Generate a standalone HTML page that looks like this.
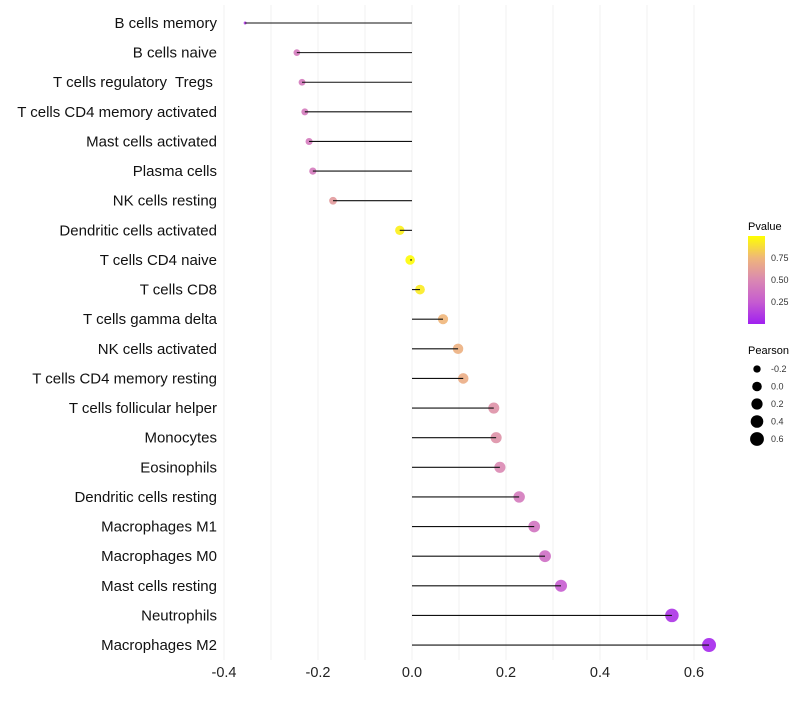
<!DOCTYPE html>
<html><head><meta charset="utf-8"><style>
body{margin:0;background:#fff;font-family:"Liberation Sans",sans-serif}
svg text{font-family:"Liberation Sans",sans-serif;white-space:pre}
</style></head><body>
<svg id="c" width="800" height="700" xmlns="http://www.w3.org/2000/svg">
<defs><linearGradient id="pg" x1="0" y1="1" x2="0" y2="0">
<stop offset="0" stop-color="#a020f0"/><stop offset="0.25" stop-color="#c65cd0"/><stop offset="0.5" stop-color="#da88b2"/><stop offset="0.75" stop-color="#efb67a"/><stop offset="1" stop-color="#ffff00"/></linearGradient></defs>
<g id="grid"></g><g id="marks"></g><g id="labels"></g>
<g>
<text x="748" y="230" font-size="11">Pvalue</text>
<rect x="748" y="236" width="17" height="88" fill="url(#pg)"/>
<text x="771" y="261" font-size="9" fill="#333">0.75</text>
<text x="771" y="283" font-size="9" fill="#333">0.50</text>
<text x="771" y="305" font-size="9" fill="#333">0.25</text>
<text x="748" y="354" font-size="11">Pearson</text>
<g id="sizeleg"></g>
</g>
</svg>
<script>
const cats=["B cells memory","B cells naive","T cells regulatory  Tregs ","T cells CD4 memory activated","Mast cells activated","Plasma cells","NK cells resting","Dendritic cells activated","T cells CD4 naive","T cells CD8","T cells gamma delta","NK cells activated","T cells CD4 memory resting","T cells follicular helper","Monocytes","Eosinophils","Dendritic cells resting","Macrophages M1","Macrophages M0","Mast cells resting","Neutrophils","Macrophages M2"];
const pearson=[-0.355,-0.245,-0.234,-0.228,-0.219,-0.211,-0.168,-0.026,-0.004,0.017,0.066,0.098,0.109,0.174,0.179,0.187,0.228,0.26,0.283,0.317,0.553,0.632];
const pvalue=[0.1,0.42,0.42,0.42,0.42,0.42,0.6,0.95,0.99,0.93,0.75,0.72,0.7,0.55,0.55,0.5,0.42,0.38,0.35,0.25,0.08,0.03];
const xticks=[-0.4,-0.2,0,0.2,0.4,0.6];
const sizeLegend=[-0.2,0,0.2,0.4,0.6];
const NS="http://www.w3.org/2000/svg";
const x=v=>412+v*470;
const y=i=>23+i*29.62;
const pmin=Math.min(...pearson),pmax=Math.max(...pearson);
const rad=v=>1.5+5.5*Math.sqrt(Math.max(0,(v-pmin)/(pmax-pmin)));
const stops=[[0,[160,32,240]],[0.25,[198,92,208]],[0.5,[218,136,178]],[0.75,[239,182,122]],[1,[255,255,0]]];
function col(p){for(let k=1;k<stops.length;k++){if(p<=stops[k][0]){const a=stops[k-1],b=stops[k],t=(p-a[0])/(b[0]-a[0]);return "rgb("+a[1].map((c,j)=>Math.round(c+(b[1][j]-c)*t)).join(",")+")";}}return "rgb(255,255,0)";}
function mk(t,at,parent){const e=document.createElementNS(NS,t);for(const k in at)e.setAttribute(k,at[k]);parent.appendChild(e);return e;}
const grid=document.getElementById('grid'),marks=document.getElementById('marks'),labels=document.getElementById('labels');
for(let v=-0.4;v<=0.65;v+=0.1){const g=mk('line',{x1:x(v),x2:x(v),y1:5,y2:660,stroke:'#f0f0f0','stroke-width':1},grid);

}
xticks.forEach(v=>{const t=mk('text',{x:x(v),y:677,'font-size':14.5,'text-anchor':'middle',fill:'#222'},labels);t.textContent=(v===0?'0.0':v.toFixed(1));

});
cats.forEach((c,i)=>{const t=mk('text',{x:217,y:y(i)+5,'font-size':15,'text-anchor':'end',fill:'#111'},labels);t.textContent=c;


const d=mk('circle',{cx:x(pearson[i]),cy:y(i),r:rad(pearson[i]),fill:col(pvalue[i]),'fill-opacity':0.9},marks);


const l=mk('line',{x1:x(0),x2:x(pearson[i]),y1:y(i),y2:y(i),stroke:'#111','stroke-width':1.1},marks);

});
const sl=document.getElementById('sizeleg');
sizeLegend.forEach((v,k)=>{const cy=369+k*17.5;const c=mk('circle',{cx:757,cy:cy,r:rad(v),fill:'#000'},sl);


const t=mk('text',{x:771,y:cy+3,'font-size':9,fill:'#333'},sl);t.textContent=v.toFixed(1);

});
</script>
</body></html>
